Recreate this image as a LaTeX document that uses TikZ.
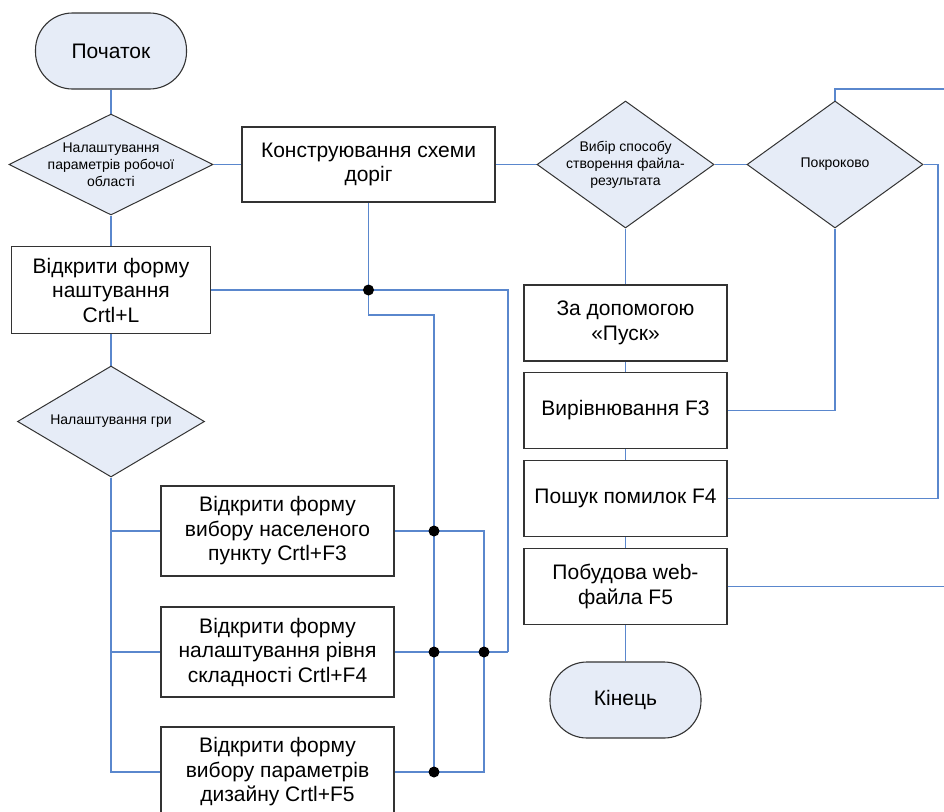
\documentclass[tikz,border=0pt]{standalone}
\usepackage{fontspec}
\setmainfont{Liberation Sans}
\usetikzlibrary{shapes.geometric,backgrounds}
\definecolor{lnk}{RGB}{90,135,205}
\definecolor{lfill}{RGB}{230,236,247}
\begin{document}
\begin{tikzpicture}[x=1pt,y=-1pt,
  box/.style={draw=black!80, line width=1.1pt, fill=white, rectangle, align=center, inner sep=0pt, font=\fontsize{21}{24.5}\selectfont},
  term/.style={draw=black!80, line width=1.1pt, fill=lfill, rectangle, rounded corners=37pt, minimum width=151pt, minimum height=76pt, font=\fontsize{21}{24.5}\selectfont},
  diam/.style={draw=black!80, line width=1pt, fill=lfill, diamond, inner sep=0pt},
  dtext/.style={align=center, inner sep=0pt, font=\fontsize{14}{17}\selectfont},
  conn/.style={draw=lnk, line width=1.1pt},
  dot/.style={circle, fill=black, inner sep=0pt, minimum size=11pt}]
\useasboundingbox (0,0) rectangle (944,811);
% nodes
\node[term] (start) at (111,51) {Початок};
\node[diam, minimum width=204pt, minimum height=101pt,
  label={[dtext]center:{Налаштування\\параметрів робочої\\області}}] (d1) at (111,164.5) {};
\node[box, minimum width=253pt, minimum height=75pt] (kons) at (368.5,164.5) {Конструювання схеми\\доріг};
\node[diam, minimum width=177pt, minimum height=127pt,
  label={[dtext]center:{Вибір способу\\створення файла-\\результата}}] (d2) at (625.5,164.5) {};
\node[diam, minimum width=176pt, minimum height=127pt,
  label={[dtext]center:{Покроково}}] (d3) at (835,164.5) {};
\node[box, minimum width=199pt, minimum height=87pt] (ns) at (111,290) {Відкрити форму\\наштування\\Crtl+L};
\node[diam, minimum width=187pt, minimum height=111pt,
  label={[dtext]center:{Налаштування гри}}] (d4) at (111,421.5) {};
\node[box, minimum width=233pt, minimum height=90pt] (f3) at (277.5,531) {Відкрити форму\\вибору населеного\\пункту Crtl+F3};
\node[box, minimum width=233pt, minimum height=90pt] (f4) at (277.5,652) {Відкрити форму\\налаштування рівня\\складності Crtl+F4};
\node[box, minimum width=233pt, minimum height=90pt] (f5) at (277.5,772) {Відкрити форму\\вибору параметрів\\дизайну Crtl+F5};
\node[box, minimum width=203pt, minimum height=76pt] (zad) at (625.5,323) {За допомогою\\«Пуск»};
\node[box, minimum width=203pt, minimum height=76pt] (vyr) at (625.5,410.5) {Вирівнювання F3};
\node[box, minimum width=203pt, minimum height=76pt] (posh) at (625.5,498.5) {Пошук помилок F4};
\node[box, minimum width=203pt, minimum height=76pt] (web) at (625.5,586.5) {Побудова web-\\файла F5};
\node[term] (end) at (625.5,700) {Кінець};
% junction coordinates
\coordinate (j0) at (368.5,290);
\coordinate (k1) at (368.5,315);
\coordinate (j1) at (434,531);
\coordinate (j2) at (434,652);
\coordinate (j3) at (434,772);
\coordinate (j4) at (484,652);
\coordinate (r3) at (484,531);
\coordinate (r5) at (484,772);
\coordinate (c1) at (508,290);
\coordinate (c2) at (508,652);
\coordinate (eTop) at (944,89);
\coordinate (r1) at (938,164.5);
\coordinate (eWeb) at (944,586.5);
% connectors
\begin{pgfonlayer}{background}
\draw[conn] (start.south) -- (d1.north);
\draw[conn] (d1.east) -- (kons.west);
\draw[conn] (kons.east) -- (d2.west);
\draw[conn] (d2.east) -- (d3.west);
\draw[conn] (d3.north) |- (eTop);
\draw[conn] (posh.east) -| (r1) -- (d3.east);
\draw[conn] (d3.south) |- (vyr.east);
\draw[conn] (web.east) -- (eWeb);
\draw[conn] (d2.south) -- (zad.north);
\draw[conn] (zad.south) -- (vyr.north);
\draw[conn] (vyr.south) -- (posh.north);
\draw[conn] (posh.south) -- (web.north);
\draw[conn] (web.south) -- (end.north);
\draw[conn] (d1.south) -- (ns.north);
\draw[conn] (ns.south) -- (d4.north);
\draw[conn] (ns.east) -- (j0) -- (c1) -- (c2);
\draw[conn] (kons.south) -- (j0) -- (k1) -| (j3);
\draw[conn] (d4.south) |- (f3.west);
\draw[conn] (d4.south) |- (f4.west);
\draw[conn] (d4.south) |- (f5.west);
\draw[conn] (f3.east) -- (r3) -- (r5) -- (f5.east);
\draw[conn] (f4.east) -- (c2);
\end{pgfonlayer}
% junction dots
\node[dot] (dj0) at (j0) {};
\node[dot] (dj1) at (j1) {};
\node[dot] (dj2) at (j2) {};
\node[dot] (dj3) at (j3) {};
\node[dot] (dj4) at (j4) {};
\end{tikzpicture}
\end{document}
